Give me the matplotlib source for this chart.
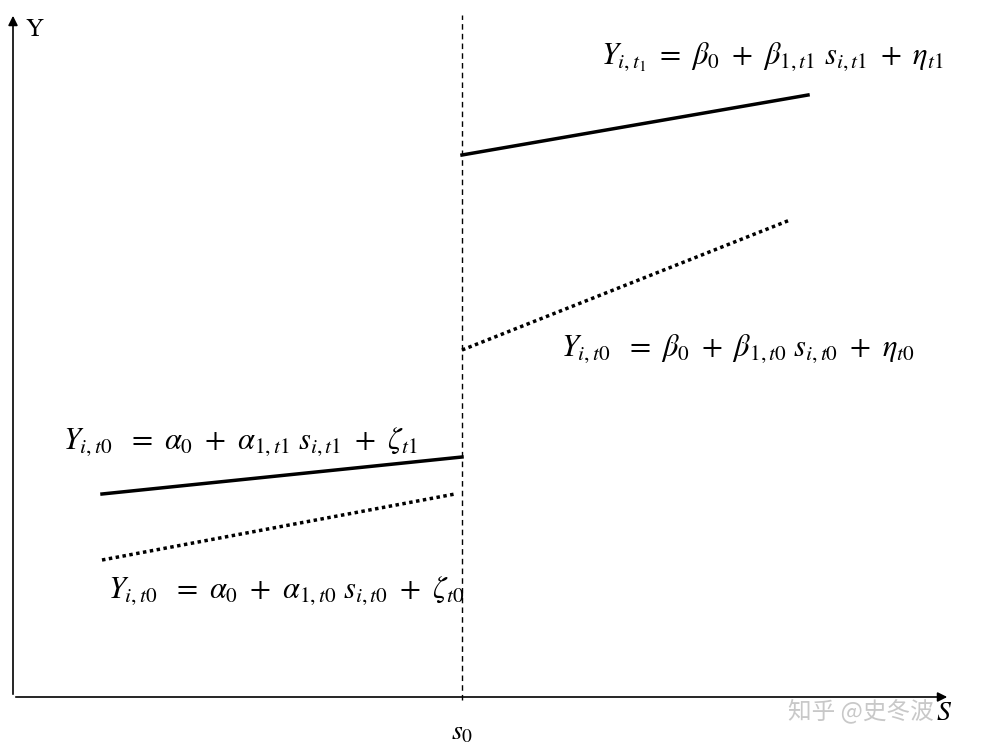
import matplotlib
matplotlib.use("Agg")
import matplotlib.pyplot as plt

plt.rcParams['mathtext.fontset'] = 'stix'
plt.rcParams['font.family'] = ['DejaVu Serif']

# line endpoints (x, y) in chart units
s0 = 449
solid_hi_x = [449, 795]; solid_hi_y = [542, 602]
dot_hi_x = [449, 777]; dot_hi_y = [347, 477]
solid_lo_x = [89, 449]; solid_lo_y = [203, 240]
dot_lo_x = [89, 442]; dot_lo_y = [137, 203]

fig = plt.figure(figsize=(9.89, 7.52), dpi=100)
ax = fig.add_axes([13/989, 55/752, 935/989, 682/752])
ax.set_xlim(0, 935)
ax.set_ylim(0, 682)
ax.axis('off')

# axes arrows
ax.annotate('', xy=(0, 684), xytext=(0, 0), annotation_clip=False,
            arrowprops=dict(arrowstyle='-|>', color='black', lw=1.2, mutation_scale=14))
ax.annotate('', xy=(937, 0), xytext=(0, 0), annotation_clip=False,
            arrowprops=dict(arrowstyle='-|>', color='black', lw=1.2, mutation_scale=14))

ax.plot([s0, s0], [-3, 682], color='black', lw=1, ls=(0, (4, 3)), clip_on=False)

ax.plot(solid_hi_x, solid_hi_y, color='black', lw=2.5)
ax.plot(dot_hi_x, dot_hi_y, color='black', lw=2.5, ls=(0, (1, 1)))
ax.plot(solid_lo_x, solid_lo_y, color='black', lw=2.5)
ax.plot(dot_lo_x, dot_lo_y, color='black', lw=2.5, ls=(0, (1, 1)))

fs = 22
ax.text(12, 667, 'Y', fontsize=18, family='STIXGeneral', va='center')
ax.text(923, -16, r'$S$', fontsize=20, va='center')
ax.text(s0, -35, r'$s_0$', fontsize=20, ha='center', va='center')
ax.text(588, 640, r'$Y_{i,t_1}\ =\ \beta_0\ +\ \beta_{1,t1}\ s_{i,t1}\ +\ \eta_{t1}$', fontsize=fs, va='center')
ax.text(548, 348, r'$Y_{i,t0}\ \ =\ \beta_0\ +\ \beta_{1,t0}\ s_{i,t0}\ +\ \eta_{t0}$', fontsize=fs, va='center')
ax.text(50, 255, r'$Y_{i,t0}\ \ =\ \alpha_0\ +\ \alpha_{1,t1}\ s_{i,t1}\ +\ \zeta_{t1}$', fontsize=fs, va='center')
ax.text(95, 106, r'$Y_{i,t0}\ \ =\ \alpha_0\ +\ \alpha_{1,t0}\ s_{i,t0}\ +\ \zeta_{t0}$', fontsize=fs, va='center')

fig.text(0.87, 0.055, '知乎 @史冬波', fontsize=17, color='#c8c8c8', ha='center', va='center',
         family=['Noto Sans CJK SC', 'DejaVu Sans'])

fig.savefig('out.png', dpi=100)
